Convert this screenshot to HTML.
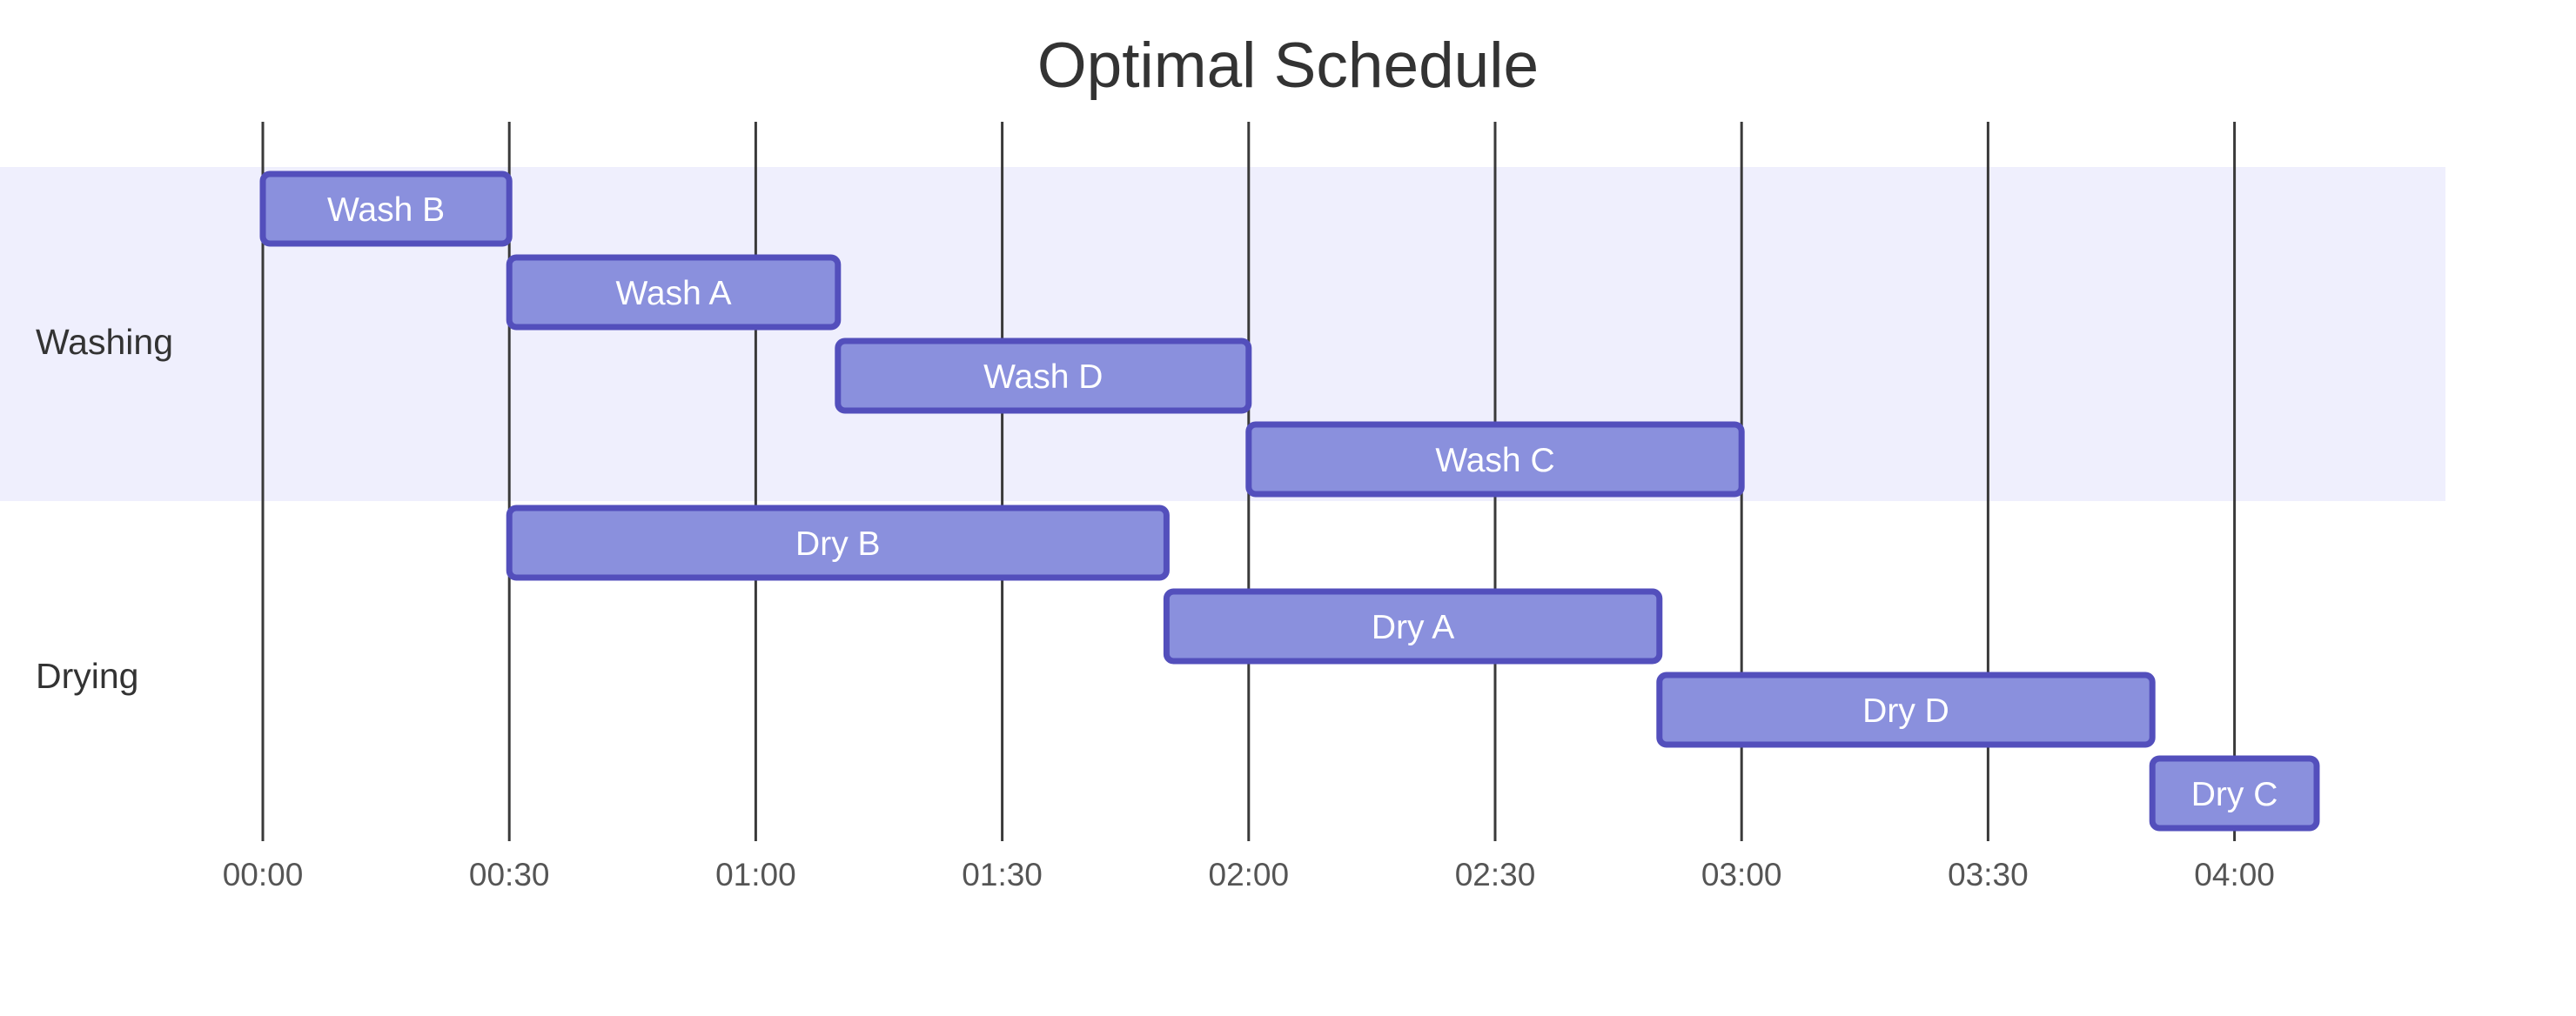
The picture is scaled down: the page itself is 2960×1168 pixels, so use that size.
<!DOCTYPE html>
<html><head><meta charset="utf-8"><style>
html,body{margin:0;padding:0;background:#fff;}
svg{display:block;font-family:"Liberation Sans",sans-serif;}
</style></head><body>
<svg id="chart" width="2960" height="1168" viewBox="0 0 2960 1168" xmlns="http://www.w3.org/2000/svg">
<text x="1480" y="100" text-anchor="middle" font-size="73" fill="#333">Optimal Schedule</text>
<g id="bands"></g><g id="grid"></g><g id="bars"></g><g id="labels"></g>
</svg>
<script>
const sections = ["Washing", "Drying"];
const taskNames = ["Wash B","Wash A","Wash D","Wash C","Dry B","Dry A","Dry D","Dry C"];
const taskSection = [0,0,0,0,1,1,1,1];
const taskStart = [0,30,70,120,30,110,170,230];
const taskEnd = [30,70,120,180,110,170,230,250];
const tickMinutes = [0,30,60,90,120,150,180,210,240];
const tickLabels = ["00:00","00:30","01:00","01:30","02:00","02:30","03:00","03:30","04:00"];

const NS="http://www.w3.org/2000/svg";
const x = m => 302 + m * 283.2 / 30;
const rowTop = 192, rowH = 96;
const y = i => rowTop + i * rowH;
function mk(tag, attrs, parent){const e=document.createElementNS(NS,tag);for(const k in attrs)e.setAttribute(k,attrs[k]);parent.appendChild(e);return e;}
const bands=document.getElementById('bands'),grid=document.getElementById('grid'),bars=document.getElementById('bars'),labels=document.getElementById('labels');

sections.forEach((s,si)=>{
  const idx=taskSection.map((v,i)=>v===si?i:-1).filter(i=>i>=0);
  const top=y(idx[0]), h=idx.length*rowH;
  const r=mk('rect',{x:0,y:top,width:2810,height:h,fill:si%2===0?'#efeffd':'#ffffff'},bands);
  
  
  const t=mk('text',{x:41,y:top+h/2+23,'font-size':41,fill:'#333'},labels);
  t.textContent=s;
  
  
});

tickMinutes.forEach((m,i)=>{
  const l=mk('line',{x1:x(m),x2:x(m),y1:140,y2:967,stroke:'#3a3a3a','stroke-width':3},grid);
  
  
  const t=mk('text',{x:x(m),y:1018,'font-size':37,fill:'#555','text-anchor':'middle'},grid);
  t.textContent=tickLabels[i];
  
  
});

taskNames.forEach((n,i)=>{
  const x0=x(taskStart[i]), x1=x(taskEnd[i]), top=y(i)+8;
  const r=mk('rect',{x:x0,y:top,width:x1-x0,height:80,rx:8,ry:8,fill:'#8a90dd',stroke:'#534fbc','stroke-width':7},bars);
  
  
  const t=mk('text',{x:(x0+x1)/2,y:top+54,'font-size':39,fill:'#fff','text-anchor':'middle'},bars);
  t.textContent=n;
  
  
});
</script>
</body></html>
